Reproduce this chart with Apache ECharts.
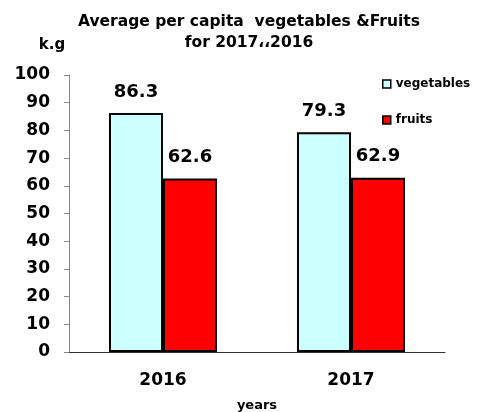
<!DOCTYPE html>
<html><head><meta charset="utf-8">
<script src="https://cdn.jsdelivr.net/npm/echarts@6/dist/echarts.min.js"></script>
<style>html,body{margin:0;padding:0;background:#fff}#c{width:480px;height:412px}</style>
</head><body><div id="c"></div>
<script>
var categories = ['2016', '2017'];
var vegetables = [86.3, 79.3];
var fruits = [62.6, 62.9];
var yTicks = [0, 10, 20, 30, 40, 50, 60, 70, 80, 90, 100];
var F = '"DejaVu Sans", sans-serif';
var chart = echarts.init(document.getElementById('c'));
chart.setOption({
  animation: false,
  backgroundColor: '#fff',
  title: {
    text: 'Average per capita  vegetables &Fruits\nfor 2017\u060C\u060C2016',
    left: 244, textAlign: 'center', top: 6,
    textStyle: {fontFamily: F, fontWeight: 'bold', fontSize: 15.5, lineHeight: 21, color: '#000'}
  },
  legend: {
    orient: 'vertical', left: 377, top: 73, itemGap: 24,
    icon: 'rect', itemWidth: 8, itemHeight: 8,
    itemStyle: {borderWidth: 1.5, borderColor: '#000'},
    textStyle: {fontFamily: F, fontWeight: 'bold', fontSize: 12, color: '#000'},
    data: ['vegetables', 'fruits']
  },
  grid: {left: 69, right: 35, top: 75, bottom: 60, outerBoundsMode: 'none', containLabel: false},
  xAxis: {
    type: 'category', data: categories,
    name: 'years', nameLocation: 'middle', nameGap: 47,
    nameTextStyle: {fontFamily: F, fontWeight: 'bold', fontSize: 13, color: '#000'},
    axisLine: {lineStyle: {color: '#333', width: 1}},
    axisTick: {alignWithLabel: true, length: 4, lineStyle: {color: '#333'}},
    axisLabel: {fontFamily: F, fontWeight: 'bold', fontSize: 17, color: '#000', margin: 20}
  },
  yAxis: {
    type: 'value', min: 0, max: 100, interval: 10,
    name: 'k.g', nameLocation: 'end', nameGap: 22,
    nameTextStyle: {fontFamily: F, fontWeight: 'bold', fontSize: 15, color: '#000', align: 'center', padding: [0, 34, 0, 0]},
    axisLine: {show: true, lineStyle: {color: '#888', width: 1}},
    axisTick: {show: true, length: 5, lineStyle: {color: '#888'}},
    splitLine: {show: false},
    axisLabel: {fontFamily: F, fontWeight: 'bold', fontSize: 17, color: '#000', margin: 19,
      formatter: function (v) { return yTicks.indexOf(v) >= 0 ? String(v) : ''; }}
  },
  series: [
    {name: 'vegetables', type: 'bar', data: vegetables, barWidth: 54, barGap: '0%',
     itemStyle: {color: '#CCFFFF', borderColor: '#000', borderWidth: 2},
     label: {show: true, position: 'top', distance: 12, fontFamily: F, fontWeight: 'bold', fontSize: 18, color: '#000',
       formatter: function (p) { return p.value.toFixed(1); }}},
    {name: 'fruits', type: 'bar', data: fruits, barWidth: 54,
     itemStyle: {color: '#FF0000', borderColor: '#000', borderWidth: 2},
     label: {show: true, position: 'top', distance: 12, fontFamily: F, fontWeight: 'bold', fontSize: 18, color: '#000',
       formatter: function (p) { return p.value.toFixed(1); }}}
  ]
});
</script></body></html>
